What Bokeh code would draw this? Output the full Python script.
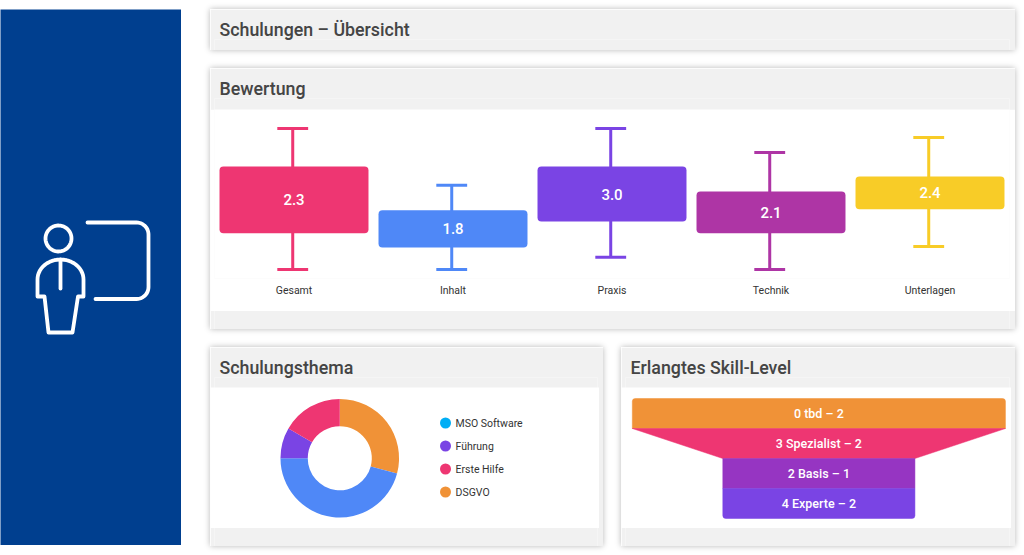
import numpy as np
from bokeh.core.properties import value
from bokeh.embed import file_html
from bokeh.layouts import column
from bokeh.models import ColumnDataSource, FactorRange, Range1d
from bokeh.plotting import figure
from bokeh.resources import INLINE
from bokeh.transform import dodge

# ---- data ----
page_title = "Schulungen – Übersicht"
rating_title = "Bewertung"
topic_title = "Schulungsthema"
skill_title = "Erlangtes Skill-Level"

rating_categories = ["Gesamt", "Inhalt", "Praxis", "Technik", "Unterlagen"]
rating_scores = ["2.3", "1.8", "3.0", "2.1", "2.4"]
box_low = [1.77, 1.47, 2.02, 1.77, 2.28]
box_high = [3.19, 2.26, 3.19, 2.66, 2.98]
whisker_low = [1.0, 1.0, 1.26, 1.0, 1.49]
whisker_high = [4.0, 2.79, 4.0, 3.49, 3.81]
rating_colors = ["#EE3672", "#4F88F7", "#7A44E4", "#AE35A5", "#F8CC27"]

slice_values = [7, 11, 2, 4]
slice_colors = ["#F09237", "#4F88F7", "#7A44E4", "#EE3672"]
legend_labels = ["MSO Software", "Führung", "Erste Hilfe", "DSGVO"]
legend_colors = ["#00AEF5", "#7A44E4", "#EE3672", "#F09237"]

skill_labels = ["0 tbd – 2", "3 Spezialist – 2", "2 Basis – 1", "4 Experte – 2"]
skill_top_width = [2.0, 2.0, 1.03, 1.03]
skill_bottom_width = [2.0, 1.03, 1.03, 1.03]
skill_colors = ["#F09237", "#EE3672", "#9635C2", "#7A44E4"]

# ---- style ----
GRAY = "#F1F1F1"
NAVY = "#003F8F"
INK = "#454545"
FONT = "Roboto"
FONT_M = "Roboto Medium"
FRAME_SHIFT = 4  # fixed-frame figures draw their frame this far in from their left edge


def place(fig, left, top):
    fig.styles = dict(fig.styles or {}, position="absolute", left=f"{left}px", top=f"{top}px")
    return fig


def bare(width, height, x_range, y_range, fill="white", border=None):
    f = figure(frame_width=width, frame_height=height, x_range=x_range, y_range=y_range,
               x_axis_location=None, y_axis_location=None,
               toolbar_location=None, output_backend="svg",
               min_border=0, min_border_left=0, min_border_right=0,
               min_border_top=0, min_border_bottom=0, outline_line_color=None,
               background_fill_color=fill, border_fill_color=border)
    f.grid.visible = False
    return f


def panel(title, left, top, width, height):
    f = figure(width=width, height=height, title=title, x_range=(0, 1), y_range=(0, 1),
               x_axis_location=None, y_axis_location=None,
               toolbar_location=None, output_backend="svg",
               min_border_left=0, min_border_right=0, min_border_bottom=0, min_border_top=30,
               outline_line_color=None, background_fill_color=GRAY, border_fill_color=GRAY)
    f.grid.visible = False
    f.title.text_font = FONT_M
    f.title.text_font_style = "normal"
    f.title.text_font_size = "17.8px"
    f.title.text_color = INK
    f.title.offset = 5
    f.title.standoff = 0
    f.styles = {"box-shadow": "0 0 6px rgba(0,0,0,0.28)"}
    return place(f, left, top)


# ---- sidebar with icon ----
side = place(bare(185, 536, Range1d(0, 185), Range1d(545, 9), fill=NAVY), -FRAME_SHIFT, 9)
t = np.linspace(0, 2 * np.pi, 60)
c1 = np.linspace(-np.pi / 2, 0, 12)
c2 = np.linspace(0, np.pi / 2, 12)
board_x = [87] + list(136 + 12 * np.cos(c1)) + list(136 + 12 * np.cos(c2)) + [95]
board_y = [222] + list(234 + 12 * np.sin(c1)) + list(286.5 + 12 * np.sin(c2)) + [298.5]
arch = np.linspace(np.pi, 2 * np.pi, 30)
body_x = list(60 + 23 * np.cos(arch)) + [83, 77.5, 72, 48, 44, 37, 37]
body_y = list(279 + 20 * np.sin(arch)) + [296, 296, 332, 332, 296, 296, 279]
side.multi_line(xs=[board_x, list(58 + 13 * np.cos(t)), body_x, [60, 60]],
                ys=[board_y, list(238 + 13 * np.sin(t)), body_y, [259, 288]],
                line_color="white", line_width=3.8, line_cap="round", line_join="round")

# ---- panels ----
p_head = panel(page_title, 210, 9, 805, 41)
p_rate = panel(rating_title, 210, 68, 805, 261)
p_topic = panel(topic_title, 210, 347, 393, 199)
p_skill = panel(skill_title, 621, 347, 394, 199)

# ---- rating chart ----
rate = figure(width=805, height=202, x_range=FactorRange(factors=rating_categories),
              y_range=Range1d(0.809, 4.404), y_axis_location=None,
              toolbar_location=None, output_backend="svg",
              min_border_left=4, min_border_right=6, min_border_top=0, min_border_bottom=33,
              outline_line_color=None, background_fill_color="white", border_fill_color="white")
rate.grid.visible = False
rate.xaxis.axis_line_color = None
rate.xaxis.major_tick_line_color = None
rate.xaxis.minor_tick_line_color = None
rate.xaxis.major_label_text_font = FONT
rate.xaxis.major_label_text_font_size = "10.5px"
rate.xaxis.major_label_text_color = "#333333"
rate.xaxis.major_label_standoff = -1
src = ColumnDataSource(dict(cat=rating_categories, score=rating_scores,
                            low=box_low, high=box_high,
                            mid=[(a + b) / 2 for a, b in zip(box_low, box_high)],
                            wl=whisker_low, wh=whisker_high, color=rating_colors))
cx = dodge("cat", -0.008, range=rate.x_range)
rate.segment(x0=cx, x1=cx, y0="wl", y1="wh", source=src, line_color="color", line_width=3)
for end in ("wl", "wh"):
    rate.segment(x0=dodge("cat", -0.105, range=rate.x_range), x1=dodge("cat", 0.089, range=rate.x_range),
                 y0=end, y1=end, source=src, line_color="color", line_width=3)
rate.vbar(x="cat", width=0.937, bottom="low", top="high", source=src, fill_color="color",
          line_color=None, border_radius=4)
rate.text(x="cat", y="mid", text="score", source=src, text_color="white",
          text_font=value(FONT_M), text_font_size="15px", text_align="center", text_baseline="middle")
place(rate, 210, 109)

# ---- donut ----
donut = bare(393, 141, Range1d(-2.18, 4.447), Range1d(-1.185, 1.192))
cum = np.cumsum([0] + slice_values) / sum(slice_values) * 2 * np.pi
donut.annular_wedge(x=0, y=0, inner_radius=0.54, outer_radius=1.0,
                    start_angle=list(np.pi / 2 - cum[:-1]), end_angle=list(np.pi / 2 - cum[1:]),
                    direction="clock", fill_color=slice_colors, line_color=None)
place(donut, 210 - FRAME_SHIFT, 387)

# ---- donut legend ----
leg = bare(150, 92, Range1d(0, 150), FactorRange(factors=legend_labels[::-1]))
leg.scatter(x=15, y=legend_labels, size=11, marker="circle", fill_color=legend_colors, line_color=None)
leg.text(x=25, y=legend_labels, text=legend_labels, text_color="#333333",
         text_font=value(FONT), text_font_size="10.5px", text_baseline="middle")
place(leg, 430 - FRAME_SHIFT, 411)

# ---- funnel ----
funnel = bare(394, 141, Range1d(-1.058, 1.054), Range1d(3.8333, -0.8667))
levels = list(range(len(skill_labels)))
radii = [(3, 3, 0, 0), 0, 0, (0, 0, 3, 3)]
for i in levels:
    top_w, bot_w = skill_top_width[i], skill_bottom_width[i]
    if top_w == bot_w:
        funnel.hbar(y=i, left=-top_w / 2, right=top_w / 2, height=1.0, fill_color=skill_colors[i],
                    line_color=skill_colors[i], line_width=0.5, border_radius=radii[i])
    else:
        funnel.patch(x=[-top_w / 2, top_w / 2, bot_w / 2, -bot_w / 2],
                     y=[i - 0.5, i - 0.5, i + 0.5, i + 0.5],
                     fill_color=skill_colors[i], line_color=skill_colors[i], line_width=0.5)
funnel.text(x=0, y=levels, text=skill_labels, text_color="white", text_font=value(FONT_M),
            text_font_size="12.5px", text_align="center", text_baseline="middle")
place(funnel, 621 - FRAME_SHIFT, 387)

root = column(side, p_head, p_rate, p_topic, p_skill, rate, donut, leg, funnel,
              width=1024, height=555,
              styles={"position": "absolute", "left": "0px", "top": "0px"})

open("out.html", "w").write(file_html(root, INLINE))
